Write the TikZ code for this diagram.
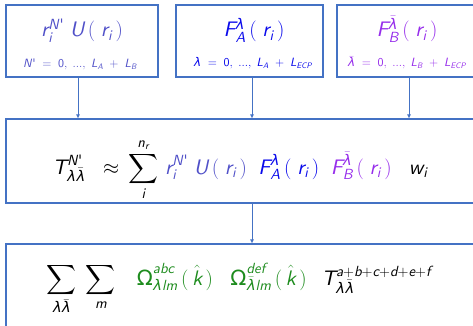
\documentclass[tikz,border=0pt]{standalone}
\usepackage{amsmath}
\usepackage{mathspec}
\setmainfont[Extension=.otf, UprightFont=*-regular, ItalicFont=*-oblique]{lmsans10}
\setmathsfont(Digits,Latin)[Extension=.otf, UprightFont=*-regular, ItalicFont=*-oblique]{lmsans10}
\setmathsfont(Greek)[Uppercase=Regular,Lowercase=Italic]{DejaVu Sans}
\setmathrm[Extension=.otf, UprightFont=*-regular, ItalicFont=*-oblique]{lmsans10}
\usetikzlibrary{arrows.meta}
\definecolor{boxblue}{RGB}{68,114,196}
\definecolor{radcol}{RGB}{80,80,200}
\definecolor{facol}{RGB}{10,10,235}
\definecolor{fbcol}{RGB}{150,45,235}
\definecolor{omcol}{RGB}{30,140,30}
\newcommand{\bigfs}{\fontsize{21}{25}\selectfont}
\newcommand{\subfs}{\fontsize{12}{14}\selectfont}
\newcommand{\pr}{\mkern1mu\text{\textquotesingle}}
\newcommand{\ofr}{\,(\;r_i\,)}

\begin{document}
\begin{tikzpicture}[x=1pt, y=-1pt,
    box/.style={draw=boxblue, line width=1.1pt, inner sep=0pt},
    main/.style={anchor=base, inner sep=0pt, font=\bigfs},
    sub/.style={anchor=base, inner sep=0pt, font=\subfs},
    link/.style={draw=boxblue, line width=0.7pt, -{Latex[length=4pt,width=4pt]}}]
    \useasboundingbox (0,0) rectangle (473,326);
    % the three input boxes
    \node[box, minimum width=152pt, minimum height=72pt] (rad) at (82,41) {};
    \node[box, minimum width=147pt, minimum height=72pt] (fa) at (249.5,41) {};
    \node[box, minimum width=144pt, minimum height=72pt] (fb) at (409,41) {};
    \node[main, text=radcol] (radf) at (82,37) {$r_i^{N\pr}\;U\ofr$};
    \node[sub, text=radcol] (radr) at (80,68) {$N\pr\;=\;0,\;...,\;L_A\;+\;L_B$};
    \node[main, text=facol] (faf) at (254,37) {$F_A^{\lambda}\ofr$};
    \node[sub, text=facol] (far) at (253,67) {$\lambda\;=\;0,\;...,\;L_A\;+\;L_{ECP}$};
    \node[main, text=fbcol] (fbf) at (407,37) {$F_B^{\bar\lambda}\ofr$};
    \node[sub, text=fbcol] (fbr) at (407,67) {$\bar\lambda\;=\;0,\;...,\;L_B\;+\;L_{ECP}$};
    % radial integral
    \node[box, minimum width=492pt, minimum height=84pt] (tens) at (252,161) {};
    \node[main] (tensf) at (240,174) {$\displaystyle T^{N\pr}_{\lambda\bar\lambda}\;\;\approx\,\sum_{i}^{n_r}\,
        \textcolor{radcol}{r_i^{N\pr}\;U\ofr}\;\;\textcolor{facol}{F_A^{\lambda}\ofr}\;\;
        \textcolor{fbcol}{F_B^{\bar\lambda}\ofr}\;\;\;w_i$};
    % angular sum
    \node[box, minimum width=492pt, minimum height=96pt] (tot) at (252,292) {};
    \node[main] (totf) at (239,285) {$\displaystyle \sum_{\lambda\bar\lambda}\;\sum_{m}\;\;\;
        \textcolor{omcol}{\Omega^{abc}_{\lambda lm}\,(\,\hat k\,)\;\;\;\Omega^{def}_{\bar\lambda lm}\,(\,\hat k\,)}\;\;\,
        T^{a+b+c+d+e+f}_{\lambda\bar\lambda}$};
    % arrows
    \draw[link] ([xshift=-4pt]rad.south) -- ([xshift=-4pt]rad.south |- tens.north);
    \draw[link] ([xshift=2.5pt]fa.south) -- ([xshift=2.5pt]fa.south |- tens.north);
    \draw[link] (fb.south) -- (fb.south |- tens.north);
    \draw[link] (tens.south) -- (tot.north);
\end{tikzpicture}
\end{document}
